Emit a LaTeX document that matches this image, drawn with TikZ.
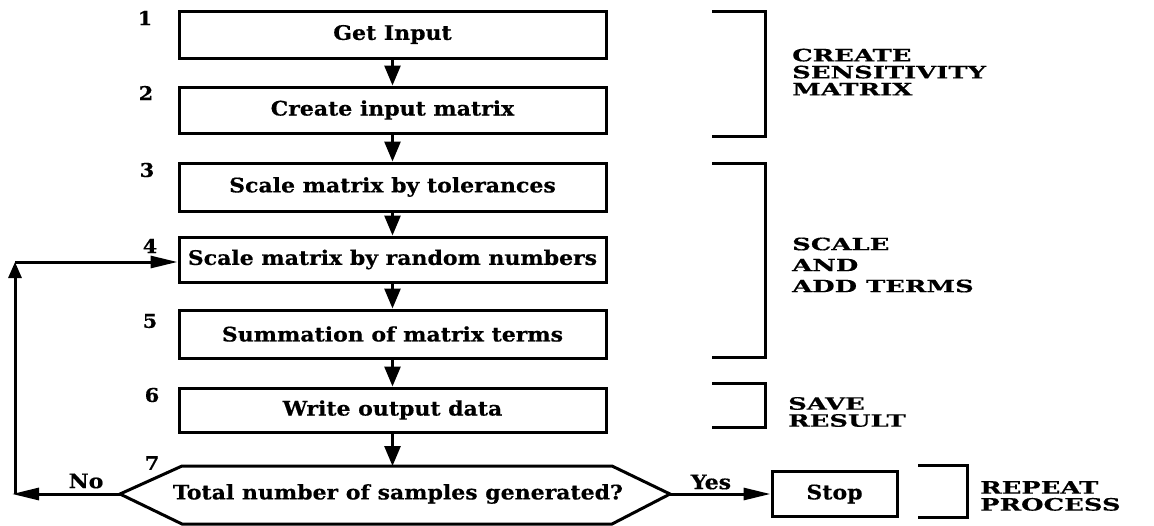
\documentclass[tikz,border=0pt]{standalone}
\usepackage{fontspec}
\setmainfont{DejaVu Serif}[FakeStretch=1.1, BoldFeatures={FakeBold=0.5}]
\newfontfamily\grpface{DejaVu Serif}[FakeStretch=1.52, BoldFeatures={FakeBold=0.5}]
\usetikzlibrary{arrows.meta}
\newcommand{\boxfont}{\fontsize{20}{22}\selectfont\bfseries}
\newcommand{\numfont}{\fontsize{19}{21}\selectfont\bfseries}
\newcommand{\grpfont}{\grpface\fontsize{17}{19}\selectfont\bfseries}
\begin{document}
\begin{tikzpicture}[x=1pt,y=-1pt,
  stepbox/.style={draw, line width=3pt, minimum width=427pt, inner sep=0pt, font=\boxfont},
  flow/.style={line width=2.8pt, -{Triangle[length=20pt,width=16pt]}},
  side/.style={line width=3pt, -{Triangle[length=27pt,width=12pt]}},
  upward/.style={line width=3pt, -{Triangle[length=16pt,width=13pt]}},
  bracket/.style={line width=3pt},
  num/.style={font=\numfont, inner sep=0pt},
  grp/.style={align=left, anchor=west, inner sep=0pt, font=\grpfont},
  lbl/.style={font=\boxfont, inner sep=0pt}]
\useasboundingbox (0,0) rectangle (1154,525);
\clip (0,0) rectangle (1154,525);

% process steps
\node[stepbox, minimum height=47pt] (b1) at (392.5,34.5) {Get Input};
\node[stepbox, minimum height=46pt] (b2) at (392.5,110) {Create input matrix};
\node[stepbox, minimum height=48pt] (b3) at (392.5,187) {Scale matrix by tolerances};
\node[stepbox, minimum height=45pt] (b4) at (392.5,259.5) {Scale matrix by random numbers};
\node[stepbox, minimum height=48pt] (b5) at (392.5,334) {Summation of matrix terms};
\node[stepbox, minimum height=44pt] (b6) at (392.5,410) {Write output data};

% decision
\coordinate (hexL) at (120,494);
\coordinate (hexR) at (670,494);
\coordinate (hexT) at (392.5,466);
\draw[line width=3pt, line join=miter]
  (hexL) -- (182,466) -- (612,466) -- (hexR) -- (612,524) -- (182,524) -- cycle;
\node[font=\boxfont, inner sep=0pt] (dec) at (398,494) {Total number of samples generated?};

\node[stepbox, minimum width=125pt, minimum height=45pt] (stop) at (834.5,494) {Stop};

% step numbers
\node[num] (n1) at (145,18) {1};
\node[num] (n2) at (146,93) {2};
\node[num] (n3) at (147,170) {3};
\node[num] (n4) at (150,246) {4};
\node[num] (n5) at (150,321) {5};
\node[num] (n6) at (152,395) {6};
\node[num] (n7) at (152,463) {7};

% main flow
\draw[flow] (b1) -- (b2);
\draw[flow] (b2) -- (b3);
\draw[flow] (b3) -- (b4);
\draw[flow] (b4) -- (b5);
\draw[flow] (b5) -- (b6);
\draw[flow] (b6) -- (hexT);

% yes branch
\draw[side] (hexR) -- (stop.west);
\node[lbl] (yes) at (711,482) {Yes};

% no branch, looping back to step 4
\coordinate (c1) at (12,494);
\coordinate (c2) at (15,494);
\coordinate (c3) at (15,262);
\draw[side] (hexL) -- (c1);
\node[lbl] (no) at (86,481) {No};
\draw[upward] (c2) -- (c3);
\draw[side] (c3) -- (b4.west |- c3);

% group brackets
\draw[bracket] (712,11) -- (765,11) -- (765,136) -- (712,136);
\draw[bracket] (712,163) -- (765,163) -- (765,357) -- (712,357);
\draw[bracket] (712,383) -- (765,383) -- (765,427) -- (712,427);
\draw[bracket] (918,465) -- (967,465) -- (967,517) -- (918,517);

\node[grp] (g1) at (792,72) {CREATE\\[-2pt]SENSITIVITY\\[-2pt]MATRIX};
\node[grp] (g2) at (792,265) {SCALE\\[2pt]AND\\[2pt]ADD TERMS};
\node[grp] (g3) at (788,412) {SAVE\\[-2pt]RESULT};
\node[grp] (g4) at (980,496) {REPEAT\\[-2pt]PROCESS};
\end{tikzpicture}
\end{document}
